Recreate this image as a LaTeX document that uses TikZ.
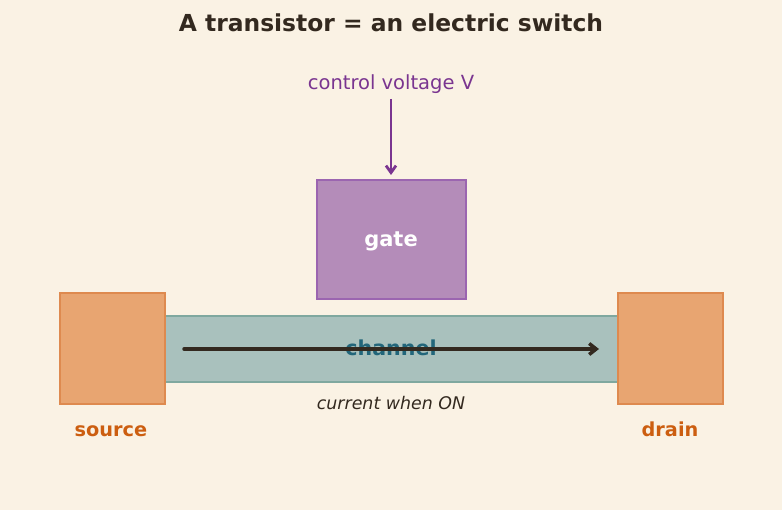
\documentclass[tikz,border=0pt]{standalone}
\usepackage{fontspec}
\setmainfont{DejaVu Sans}
\usetikzlibrary{arrows.meta}
\definecolor{bg}{HTML}{FAF2E4}
\definecolor{ink}{HTML}{33291F}
\definecolor{purp}{HTML}{7A3590}
\definecolor{gatefill}{HTML}{B48CB9}
\definecolor{gateedge}{HTML}{9B65B0}
\definecolor{chanfill}{HTML}{A9C1BD}
\definecolor{chanedge}{HTML}{7FA89F}
\definecolor{chantext}{HTML}{22667A}
\definecolor{sdfill}{HTML}{E8A571}
\definecolor{sdedge}{HTML}{DE8A4F}
\definecolor{sdtext}{HTML}{CC5E10}
\tikzset{
  box/.style={draw, line width=2pt, inner sep=0pt, anchor=north west},
  sdbox/.style={box, fill=sdfill, draw=sdedge, minimum width=105pt, minimum height=111pt},
  lbl/.style={inner sep=0pt, anchor=base},
}
\begin{document}
\begin{tikzpicture}[x=1pt,y=-1pt]
\fill[bg] (0,0) rectangle (782,510);
\useasboundingbox (0,0) rectangle (782,510);
\node[lbl, text=ink, font=\fontsize{23.4}{26}\selectfont\bfseries] (title) at (391,32) {A transistor = an electric switch};
\node[lbl, text=purp, font=\fontsize{19.5}{22}\selectfont] (cv) at (391,90) {control voltage V};
\node[box, fill=chanfill, draw=chanedge, minimum width=453pt, minimum height=66pt] (chan) at (164,315) {};
\node[lbl, text=chantext, font=\fontsize{20.6}{23}\selectfont\bfseries] (chantxt) at (391,356) {channel};
\node[box, fill=gatefill, draw=gateedge, minimum width=149pt, minimum height=119pt] (gate) at (316,179) {};
\node[text=white, font=\fontsize{21}{24}\selectfont\bfseries] (gatetxt) at (391,241.5) {gate};
\node[sdbox] (src) at (59,292) {};
\node[sdbox] (drn) at (617,292) {};
\node[lbl, text=sdtext, font=\fontsize{19.3}{22}\selectfont\bfseries] (srctxt) at (111,436) {source};
\node[lbl, text=sdtext, font=\fontsize{19.3}{22}\selectfont\bfseries] (drntxt) at (670,436) {drain};
\node[lbl, text=ink, font=\fontsize{17.4}{20}\selectfont\itshape] (cur) at (391,410) {current when ON};
\coordinate (a1) at (391,99);
\coordinate (a2) at (391,175);
\draw[purp, line width=2.8pt, -{Straight Barb[length=7pt,width=10pt,line width=2.8pt]}] (a1) -- (a2);
\coordinate (c1) at (184,349);
\coordinate (c2) at (599,349);
\draw[ink, line width=3.5pt, line cap=round, -{Straight Barb[length=7pt,width=11pt,line width=3.5pt]}] (c1) -- (c2);
\end{tikzpicture}
\end{document}
